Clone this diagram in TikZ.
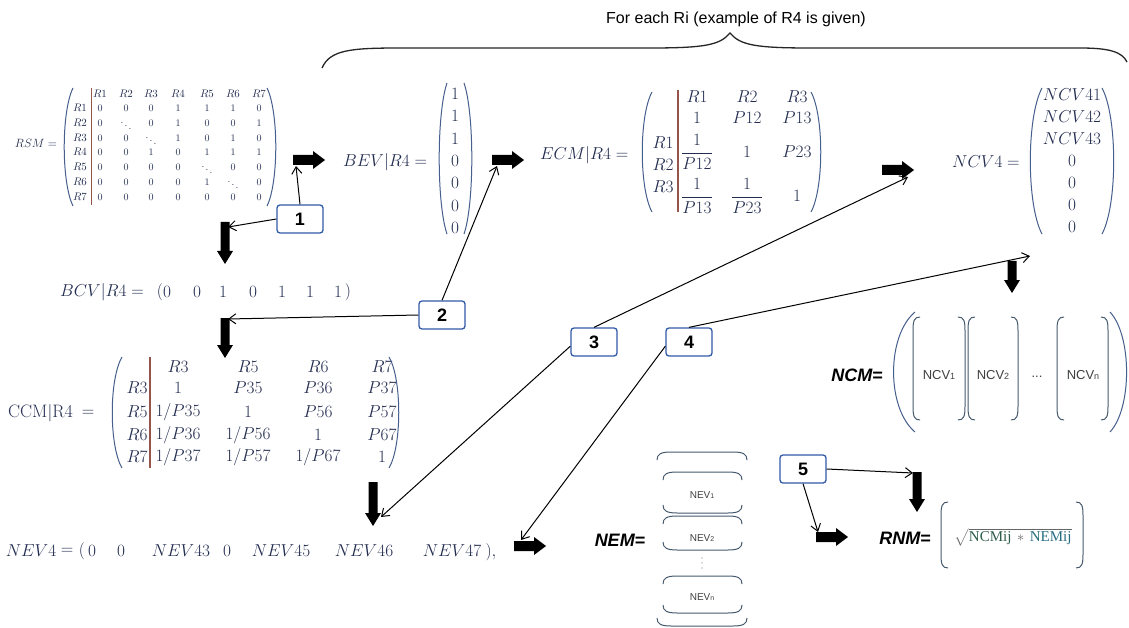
\documentclass[tikz,border=0pt]{standalone}
\usepackage{amsmath}
\usepackage{fontspec}
\newfontfamily\arial{Liberation Sans}
\newfontfamily\tnr{Liberation Serif}
\usetikzlibrary{arrows.meta}
\definecolor{mcol}{RGB}{35,45,80}
\definecolor{parcol}{RGB}{70,95,140}
\definecolor{barcol}{RGB}{150,85,75}
\definecolor{boxcol}{RGB}{50,90,170}
\definecolor{brk}{RGB}{70,90,110}
\definecolor{greenish}{RGB}{45,95,75}
\definecolor{teal1}{RGB}{40,110,130}
\newcommand\fs[1]{\fontsize{#1}{#1}\selectfont}
\newcommand\LPar[4]{\draw[parstyle] ({#1+#4},#2) .. controls ({#1-0.3*#4},{#2+0.2*(#3-#2)}) and ({#1-0.3*#4},{#2+0.8*(#3-#2)}) .. ({#1+#4},#3);}
\newcommand\RPar[4]{\draw[parstyle] ({#1-#4},#2) .. controls ({#1+0.3*#4},{#2+0.2*(#3-#2)}) and ({#1+0.3*#4},{#2+0.8*(#3-#2)}) .. ({#1-#4},#3);}
\newcommand\LBrk[3]{\draw[brkstyle] ({#1+7},#2) .. controls ({#1+1},#2) and (#1,{#2+4}) .. (#1,{#2+14}) -- (#1,{#3-14}) .. controls (#1,{#3-4}) and ({#1+1},#3) .. ({#1+7},#3);}
\newcommand\RBrk[3]{\draw[brkstyle] ({#1-7},#2) .. controls ({#1-1},#2) and (#1,{#2+4}) .. (#1,{#2+14}) -- (#1,{#3-14}) .. controls (#1,{#3-4}) and ({#1-1},#3) .. ({#1-7},#3);}
\newcommand\TBrk[3]{\draw[brkstyle] (#1,{#3+8}) .. controls (#1,{#3+2}) and ({#1+4},#3) .. ({#1+14},#3) -- ({#2-14},#3) .. controls ({#2-4},#3) and (#2,{#3+2}) .. (#2,{#3+8});}
\newcommand\BBrk[3]{\draw[brkstyle] (#1,{#3-8}) .. controls (#1,{#3-2}) and ({#1+4},#3) .. ({#1+14},#3) -- ({#2-14},#3) .. controls ({#2-4},#3) and (#2,{#3-2}) .. (#2,{#3-8});}
\tikzset{
  parstyle/.style={draw=parcol, line width=1pt},
  brkstyle/.style={draw=brk, line width=1pt},
  barstyle/.style={draw=barcol, line width=1.2pt},
  mt/.style={text=mcol, inner sep=0pt, font=\fs{17}},
  mb/.style={text=mcol, inner sep=0pt, font=\fs{18}},
  ms/.style={text=mcol, inner sep=0pt, font=\fs{11}},
  mn/.style={text=mcol, inner sep=0pt, font=\fs{18}},
  lab/.style={inner sep=0pt, font=\arial\bfseries\itshape\fs{18}},
  vlab/.style={inner sep=0pt, text=black!75, font=\arial\fs{13}},
  hlab/.style={inner sep=0pt, text=black!75, font=\arial\fs{10}},
  numbox/.style={draw=boxcol, line width=1.3pt, rounded corners=3pt, fill=white,
    minimum width=46pt, minimum height=28pt, inner sep=0pt, font=\arial\bfseries\fs{18}},
  conn/.style={draw=black, line width=1pt, -{Straight Barb[length=7pt,width=10pt]}},
  bR/.pic={\fill[black] (-16,-5) -- (4,-5) -- (4,-9) -- (16,0) -- (4,9) -- (4,5) -- (-16,5) -- cycle;},
  bD/.pic={\fill[black] (-4.5,-#1) -- (-4.5,{#1-13}) -- (-8,{#1-13}) -- (0,#1) -- (8,{#1-13}) -- (4.5,{#1-13}) -- (4.5,-#1) -- cycle;},
}
\begin{document}
\begin{tikzpicture}[x=1pt,y=-1pt]
\useasboundingbox (0,0) rectangle (1129,628);
\fill[white] (0,0) rectangle (1129,628);

% title and brace
\node[font=\arial\fs{16}, inner sep=0pt] (title) at (736,19) {For each Ri (example of R4 is given)};
\draw[line width=1.3pt, black!85] (322,68) .. controls (330,50) and (350,48) .. (400,48) -- (650,48)
  .. controls (705,48) and (720,45) .. (730,33) .. controls (740,45) and (755,48) .. (810,48)
  -- (1080,48) .. controls (1110,48) and (1122,52) .. (1127,62);

% ---------- RSM ----------
\node[ms, font=\fs{12}] (rsmlab) at (36,143) {$RSM=$};
\foreach \h [count=\c] in {100,126,151,178,207,233,259}
  \node[ms] (rsmh\c) at (\h,94) {$R\c$};
\foreach \yy [count=\r] in {108,123,138,152,167,182,197}
  \node[ms] (rsmr\r) at (80,\yy) {$R\r$};
\foreach \row [count=\r] in {{0,0,0,1,1,1,0},{0,\ddots,0,1,0,0,1},{0,0,\ddots,1,0,1,0},{0,0,1,0,1,1,1},{0,0,0,0,\ddots,0,0},{0,0,0,0,1,\ddots,0},{0,0,0,0,0,0,0}}{
  \foreach \v [count=\c] in \row {
    \pgfmathsetmacro\xx{{100,126,151,178,207,233,259}[\c-1]}
    \pgfmathsetmacro\yy{{108,123,138,152,167,182,197}[\r-1]}
    \node[ms, font=\fs{10}] (rsm\r x\c) at (\xx,\yy) {$\v$};
  }
}
\draw[barstyle, line width=1pt] (91,88) -- (91,205);
\LPar{64}{88}{206}{9}
\RPar{276}{88}{206}{9}

% ---------- BEV ----------
\node[mt, anchor=west] (bevlab) at (343,162) {$BEV|R4=$};
\foreach \v [count=\i] in {1,1,1,0,0,0,0}
  \node[mt] (bev\i) at (455,{94+22.3*(\i-1)}) {$\v$};
\LPar{439}{83}{234}{8}
\RPar{472}{83}{234}{8}

% ---------- ECM ----------
\node[mt, anchor=west] (ecmlab) at (540,155) {$ECM|R4=$};
\node[mt] (ech1) at (697,97) {$R1$};
\node[mt] (ech2) at (747,97) {$R2$};
\node[mt] (ech3) at (797,97) {$R3$};
\node[mt] (ecr1) at (663,143) {$R1$};
\node[mt] (ecr2) at (663,165) {$R2$};
\node[mt] (ecr3) at (663,187) {$R3$};
\node[mt] (e11) at (697,118) {$1$};
\node[mt] (e12) at (747,118) {$P12$};
\node[mt] (e13) at (797,118) {$P13$};
\node[mt] (e21) at (697,152) {$\dfrac{1}{P12}$};
\node[mt] (e22) at (747,152) {$1$};
\node[mt] (e23) at (797,152) {$P23$};
\node[mt] (e31) at (697,196) {$\dfrac{1}{P13}$};
\node[mt] (e32) at (747,196) {$\dfrac{1}{P23}$};
\node[mt] (e33) at (797,196) {$1$};
\draw[barstyle] (678,90) -- (678,212);
\LPar{642}{92}{212}{10}
\RPar{821}{92}{212}{10}

% ---------- NCV4 ----------
\node[mn, anchor=west] (ncvlab) at (952,162) {$NCV4=$};
\foreach \v [count=\i] in {NCV41,NCV42,NCV43,0,0,0,0}
  \node[mn] (ncv\i) at (1072,{95+22*(\i-1)}) {$\v$};
\LPar{1030}{88}{234}{12}
\RPar{1114}{88}{234}{12}

% ---------- BCV ----------
\node[mt, anchor=west] (bcvlab) at (60,292) {$BCV|R4=$};
\node[mt] (bcvl) at (160,292) {$($};
\foreach \v/\x [count=\i] in {0/167,0/197,1/223,0/253,1/282,1/310,1/338}
  \node[mt] (bcv\i) at (\x,292) {$\v$};
\node[mt] (bcvr) at (348,292) {$)$};

% ---------- CCM ----------
\node[mb, anchor=west] (ccmlab) at (8,413) {$\mathrm{CCM}|\mathrm{R4}$};
\node[mb] (ccmeq) at (88,413) {$=$};
\foreach \h/\x in {R3/178,R5/248,R6/318,R7/382}
  \node[mb] (cch\h) at (\x,367) {$\h$};
\foreach \h/\y in {R3/388,R5/412,R6/435,R7/457}
  \node[mb] (ccr\h) at (137,\y) {$\h$};
\foreach \row/\y [count=\r] in {{1,P35,P36,P37}/388,{1/P35,1,P56,P57}/412,{1/P36,1/P56,1,P67}/435,{1/P37,1/P57,1/P67,1}/457}{
  \foreach \v [count=\c] in \row {
    \pgfmathsetmacro\xx{{178,248,318,382}[\c-1]}
    \node[mb] (cc\r x\c) at (\xx,\y) {$\v$};
  }
}
\draw[barstyle] (150,357) -- (150,468);
\LPar{112}{357}{468}{10}
\RPar{399}{357}{468}{10}

% ---------- NEV4 ----------
\foreach \t/\x [count=\i] in {NEV4/31,=/67,0/92,0/121,NEV43/181,0/227,NEV45/281,NEV46/364,NEV47/452}
  \node[mb] (nev\i) at (\x,551) {$\t$};
\node[mb] (nevopen) at (82,551) {$($};
\node[mb] (nevend) at (491,552) {$),$};

% ---------- NCM ----------
\node[lab] (ncmlab) at (857,375) {NCM=};
\LPar{893}{312}{432}{22}
\RPar{1127}{312}{432}{17}
\LBrk{913}{317}{420}\RBrk{965}{317}{420}
\LBrk{968}{317}{420}\RBrk{1018}{317}{420}
\LBrk{1057}{317}{420}\RBrk{1108}{317}{420}
\node[vlab] (ncv1l) at (939,375) {NCV{\fs{9}1}};
\node[vlab] (ncv2l) at (993,375) {NCV{\fs{9}2}};
\node[vlab] (ncvdots) at (1037,377) {...};
\node[vlab] (ncvnl) at (1083,375) {NCV{\fs{9}n}};

% ---------- NEM ----------
\node[lab] (nemlab) at (620,540) {NEM=};
\TBrk{657}{747}{452}
\TBrk{663}{742}{472}\BBrk{663}{742}{513}
\TBrk{663}{742}{516}\BBrk{663}{742}{550}
\TBrk{663}{742}{576}\BBrk{663}{742}{613}
\BBrk{657}{747}{626}
\node[hlab] (nev1l) at (702,495) {NEV{\fs{7}1}};
\node[hlab] (nev2l) at (702,538) {NEV{\fs{7}2}};
\foreach \yy in {558,563,568}
  \fill[black!55] (702,\yy) circle (0.7);
\node[hlab] (nevnl) at (702,597) {NEV{\fs{7}n}};

% ---------- RNM ----------
\node[lab] (rnmlab) at (905,538) {RNM=};
\LBrk{941}{502}{568}
\RBrk{1083}{502}{568}
\node[inner sep=0pt, font=\tnr\fs{15}, text=black!60] (rnmc) at (1013,537)
  {$\sqrt{\textcolor{greenish}{\text{NCMij}}\,*\,\textcolor{teal1}{\text{NEMij}}}$};

% ---------- block arrows ----------
\pic (ra1) at (309,160) {bR};
\pic (ra2) at (508,160) {bR};
\pic (ra3) at (898,170) {bR};
\pic (ra4) at (530,546) {bR};
\pic (ra5) at (832,537) {bR};
\pic (da1) at (225,243) {bD=21};
\pic (da2) at (225,338) {bD=20};
\pic (da3) at (373,504) {bD=22};
\pic (da4) at (1012,277) {bD=16};
\pic (da5) at (917,492) {bD=20};

% ---------- numbered boxes ----------
\node[numbox] (b1) at (300,219) {1};
\node[numbox] (b2) at (442,315) {2};
\node[numbox] (b3) at (594,342) {3};
\node[numbox] (b4) at (689,342) {4};
\node[numbox] (b5) at (803,469) {5};

\coordinate (e1) at (296,166);
\coordinate (e2) at (228,227);
\coordinate (e3) at (228,319);
\coordinate (e4) at (497,166);
\coordinate (e5) at (908,177);
\coordinate (e6) at (381,517);
\coordinate (e7) at (1030,256);
\coordinate (e8) at (521,540);
\coordinate (e9) at (913,473);
\coordinate (e10) at (818,532);

\draw[conn] (b1.north) -- (e1);
\draw[conn] (b1.west) -- (e2);
\draw[conn] (b2.west) -- (e3);
\draw[conn] (b2.north) -- (e4);
\draw[conn] (b3.north) -- (e5);
\draw[conn] (b3.190) -- (e6);
\draw[conn] (b4.north) -- (e7);
\draw[conn] (b4.190) -- (e8);
\draw[conn] (b5.east) -- (e9);
\draw[conn] (b5.south) -- (e10);
\end{tikzpicture}
\end{document}
